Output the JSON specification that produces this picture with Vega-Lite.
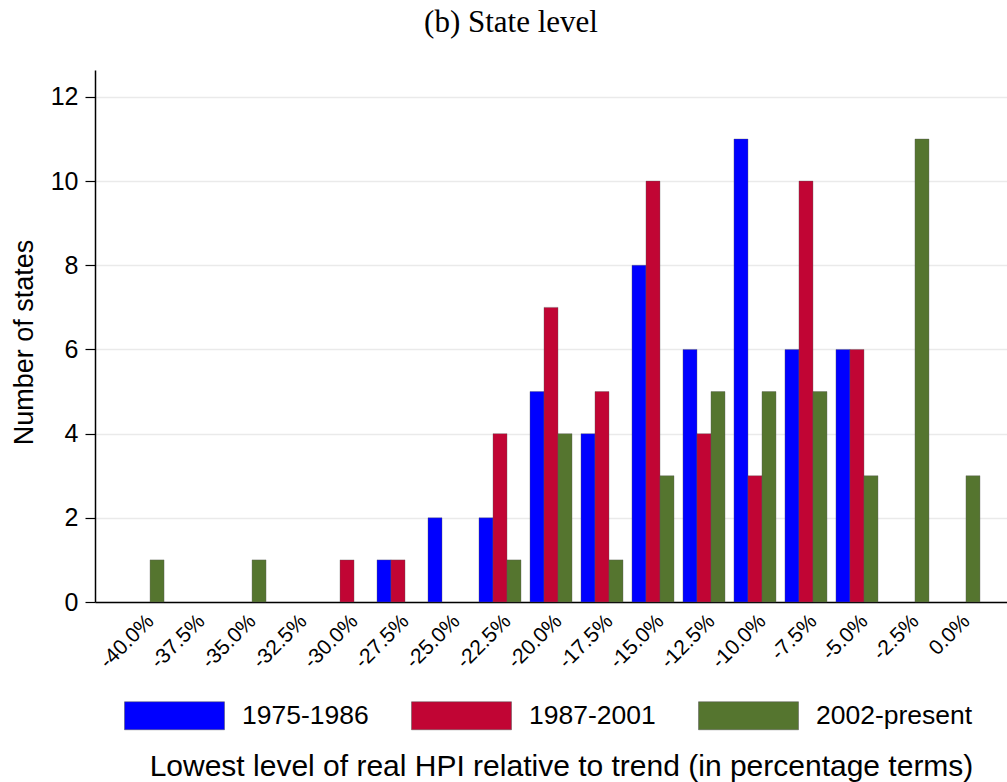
{
  "$schema": "https://vega.github.io/schema/vega-lite/v6.json",
  "autosize": {"type": "none"},
  "width": 912,
  "height": 532,
  "padding": {"left": 95, "top": 70, "right": 0, "bottom": 180},
  "background": "white",
  "title": {
    "text": "(b) State level",
    "font": "Liberation Serif",
    "fontSize": 31,
    "fontWeight": "normal",
    "color": "black",
    "dx": -40,
    "offset": 31
  },
  "data": {
    "values": [
      {"bin": "-40.0%", "period": "2002-present", "count": 1},
      {"bin": "-35.0%", "period": "2002-present", "count": 1},
      {"bin": "-30.0%", "period": "1987-2001", "count": 1},
      {"bin": "-27.5%", "period": "1975-1986", "count": 1},
      {"bin": "-27.5%", "period": "1987-2001", "count": 1},
      {"bin": "-25.0%", "period": "1975-1986", "count": 2},
      {"bin": "-22.5%", "period": "1975-1986", "count": 2},
      {"bin": "-22.5%", "period": "1987-2001", "count": 4},
      {"bin": "-22.5%", "period": "2002-present", "count": 1},
      {"bin": "-20.0%", "period": "1975-1986", "count": 5},
      {"bin": "-20.0%", "period": "1987-2001", "count": 7},
      {"bin": "-20.0%", "period": "2002-present", "count": 4},
      {"bin": "-17.5%", "period": "1975-1986", "count": 4},
      {"bin": "-17.5%", "period": "1987-2001", "count": 5},
      {"bin": "-17.5%", "period": "2002-present", "count": 1},
      {"bin": "-15.0%", "period": "1975-1986", "count": 8},
      {"bin": "-15.0%", "period": "1987-2001", "count": 10},
      {"bin": "-15.0%", "period": "2002-present", "count": 3},
      {"bin": "-12.5%", "period": "1975-1986", "count": 6},
      {"bin": "-12.5%", "period": "1987-2001", "count": 4},
      {"bin": "-12.5%", "period": "2002-present", "count": 5},
      {"bin": "-10.0%", "period": "1975-1986", "count": 11},
      {"bin": "-10.0%", "period": "1987-2001", "count": 3},
      {"bin": "-10.0%", "period": "2002-present", "count": 5},
      {"bin": "-7.5%", "period": "1975-1986", "count": 6},
      {"bin": "-7.5%", "period": "1987-2001", "count": 10},
      {"bin": "-7.5%", "period": "2002-present", "count": 5},
      {"bin": "-5.0%", "period": "1975-1986", "count": 6},
      {"bin": "-5.0%", "period": "1987-2001", "count": 6},
      {"bin": "-5.0%", "period": "2002-present", "count": 3},
      {"bin": "-2.5%", "period": "2002-present", "count": 11},
      {"bin": "0.0%", "period": "2002-present", "count": 3}
    ]
  },
  "mark": {"type": "bar", "stroke": "#555555", "strokeOpacity": 0.5, "strokeWidth": 0.7},
  "encoding": {
    "x": {
      "field": "bin",
      "type": "nominal",
      "sort": ["-40.0%", "-37.5%", "-35.0%", "-32.5%", "-30.0%", "-27.5%", "-25.0%", "-22.5%", "-20.0%", "-17.5%", "-15.0%", "-12.5%", "-10.0%", "-7.5%", "-5.0%", "-2.5%", "0.0%"],
      "scale": {
        "domain": ["-40.0%", "-37.5%", "-35.0%", "-32.5%", "-30.0%", "-27.5%", "-25.0%", "-22.5%", "-20.0%", "-17.5%", "-15.0%", "-12.5%", "-10.0%", "-7.5%", "-5.0%", "-2.5%", "0.0%"],
        "paddingInner": 0.176,
        "paddingOuter": 0.53
      },
      "axis": {
        "title": "Lowest level of real HPI relative to trend (in percentage terms)",
        "titleFont": "Liberation Sans",
        "titleFontSize": 30,
        "titleFontWeight": "normal",
        "titleColor": "black",
        "titleY": 173,
        "titleX": 466,
        "titleAlign": "center",
        "titleBaseline": "alphabetic",
        "labelAngle": -45,
        "labelFont": "Liberation Sans",
        "labelFontSize": 21,
        "labelColor": "black",
        "labelPadding": 8,
        "ticks": false,
        "domainColor": "black",
        "domainWidth": 1.5,
        "grid": false
      }
    },
    "xOffset": {
      "field": "period",
      "type": "nominal",
      "scale": {"domain": ["1975-1986", "1987-2001", "2002-present"], "paddingInner": 0, "paddingOuter": 0}
    },
    "y": {
      "field": "count",
      "type": "quantitative",
      "scale": {"domain": [0, 12.64], "nice": false, "zero": true},
      "axis": {
        "title": "Number of states",
        "titleFont": "Liberation Sans",
        "titleFontSize": 27,
        "titleFontWeight": "normal",
        "titleColor": "black",
        "titleAngle": -90,
        "titleX": -63,
        "titleY": 272,
        "titleAlign": "center",
        "titleBaseline": "alphabetic",
        "values": [0, 2, 4, 6, 8, 10, 12],
        "labelFont": "Liberation Sans",
        "labelFontSize": 25,
        "labelColor": "black",
        "labelPadding": 7,
        "tickSize": 10,
        "tickColor": "black",
        "tickWidth": 1.2,
        "domainColor": "black",
        "domainWidth": 1.5,
        "grid": true,
        "gridColor": "#EAEAEA",
        "gridWidth": 1.5
      }
    },
    "color": {
      "field": "period",
      "type": "nominal",
      "scale": {"domain": ["1975-1986", "1987-2001", "2002-present"], "range": ["#0000FF", "#C10534", "#55752F"]},
      "legend": {
        "title": null,
        "orient": "none",
        "direction": "horizontal",
        "columns": 3,
        "legendX": 29,
        "legendY": 595,
        "symbolType": "M-1,-0.28L1,-0.28L1,0.28L-1,0.28Z",
        "symbolSize": 10000,
        "symbolStrokeWidth": 0.5,
        "symbolStrokeColor": "#555555",
        "labelFont": "Liberation Sans",
        "labelFontSize": 26.5,
        "labelColor": "black",
        "labelOffset": 17,
        "columnPadding": 41
      }
    }
  },
  "config": {"view": {"stroke": null}}
}
